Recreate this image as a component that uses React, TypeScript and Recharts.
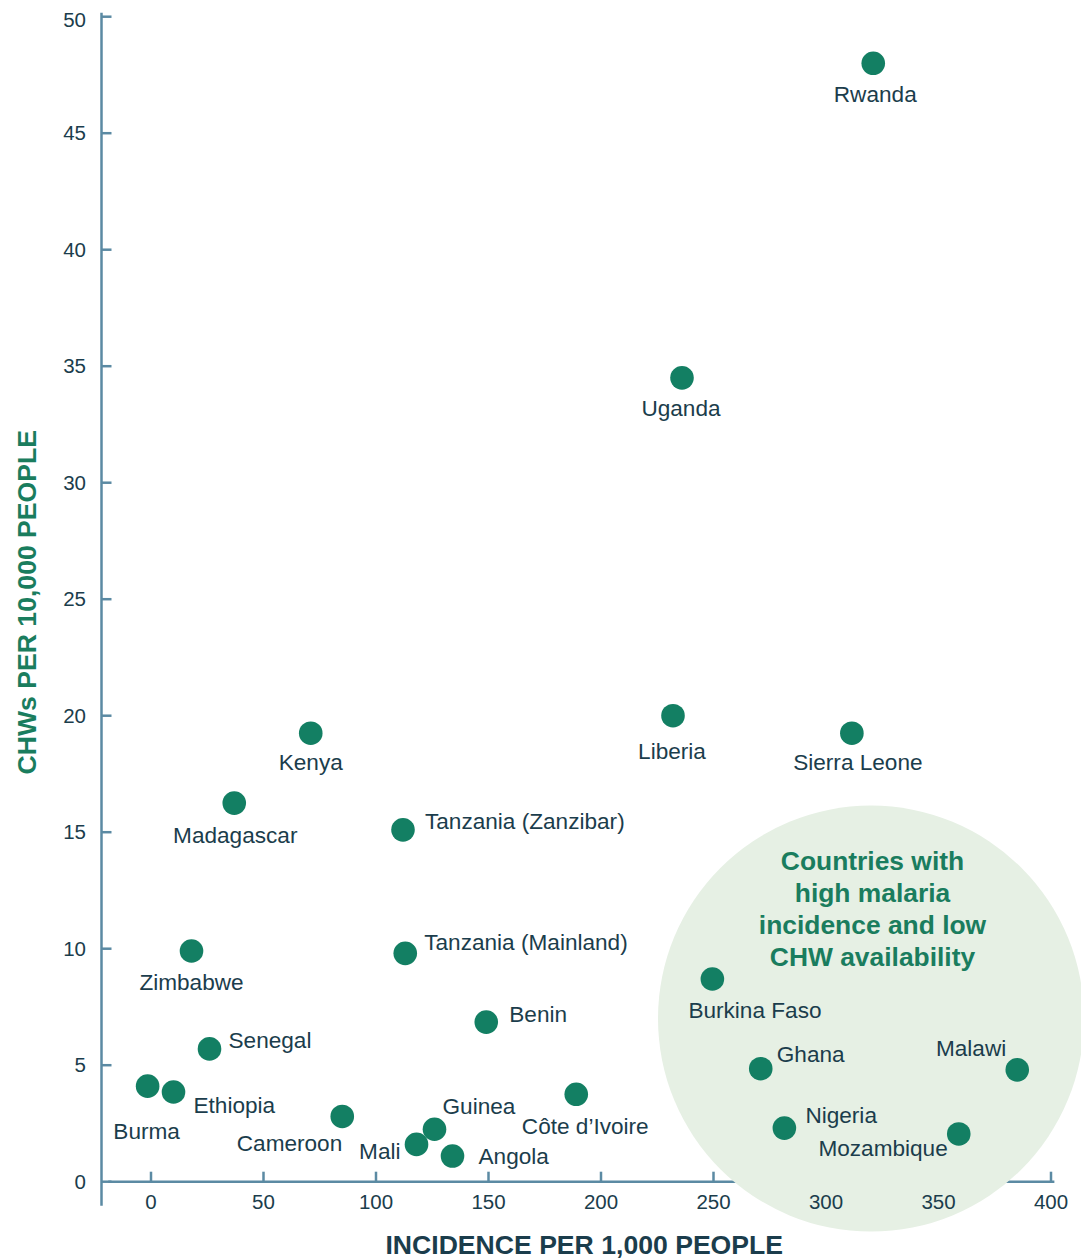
import { ScatterChart, Scatter, XAxis, YAxis, ReferenceLine, ReferenceDot, Label } from 'recharts';

const FONT = '"Liberation Sans", Arial, Helvetica, sans-serif';
const DOT = '#137f63';
const AXIS = '#5b8aa3';
const INK = '#1b3d4c';
const GREEN = '#1a7d5e';

// countries, incidence per 1,000 and CHWs per 10,000
const countries = [
  'Rwanda', 'Uganda', 'Liberia', 'Sierra Leone', 'Kenya', 'Madagascar',
  'Tanzania (Zanzibar)', 'Zimbabwe', 'Tanzania (Mainland)', 'Burkina Faso',
  'Benin', 'Senegal', 'Ghana', 'Malawi', 'Burma', 'Ethiopia', 'Côte d’Ivoire',
  'Cameroon', 'Nigeria', 'Guinea', 'Mozambique', 'Mali', 'Angola',
];
const incidence = [
  321, 236, 232, 311.5, 71, 37,
  112, 18, 113, 249.5,
  149, 26, 271, 385, -1.5, 10, 189,
  85, 281.5, 126, 359, 118, 134,
];
const chwDensity = [
  48, 34.5, 20, 19.25, 19.25, 16.25,
  15.1, 9.9, 9.8, 8.7,
  6.85, 5.7, 4.85, 4.8, 4.1, 3.85, 3.75,
  2.8, 2.3, 2.25, 2.05, 1.6, 1.1,
];

const xTicks = [0, 50, 100, 150, 200, 250, 300, 350, 400];
const yTicks = [0, 5, 10, 15, 20, 25, 30, 35, 40, 45, 50];

const zoneCenter = { x: 320, y: 7 };
const zoneText = ['Countries with', 'high malaria', 'incidence and low', 'CHW availability'];

const points = countries.map((name, i) => ({ name, x: incidence[i], y: chwDensity[i] }));

// where each country's name sits relative to its dot: dx, dy, anchor
const labelPlacement: Record<string, [number, number, 'start' | 'middle' | 'end']> = {
  'Rwanda': [2, 31, 'middle'],
  'Uganda': [-1, 31, 'middle'],
  'Liberia': [-1, 36, 'middle'],
  'Sierra Leone': [6, 29, 'middle'],
  'Kenya': [0, 29, 'middle'],
  'Madagascar': [1, 32, 'middle'],
  'Tanzania (Zanzibar)': [22, -8, 'start'],
  'Zimbabwe': [0, 31, 'middle'],
  'Tanzania (Mainland)': [19, -11, 'start'],
  'Burkina Faso': [-24, 32, 'start'],
  'Benin': [23, -8, 'start'],
  'Senegal': [19, -8, 'start'],
  'Ghana': [16, -14, 'start'],
  'Malawi': [-11, -21, 'end'],
  'Burma': [-1, 45, 'middle'],
  'Ethiopia': [20, 14, 'start'],
  'Côte d’Ivoire': [9, 32, 'middle'],
  'Cameroon': [0, 27, 'end'],
  'Nigeria': [21, -13, 'start'],
  'Guinea': [8, -23, 'start'],
  'Mozambique': [-11, 15, 'end'],
  'Mali': [-16, 7, 'end'],
  'Angola': [26, 0, 'start'],
};

const renderCountry = (props: any) => {
  const { cx, cy, payload } = props;
  const [dx, dy, anchor] = labelPlacement[payload.name] ?? [0, 30, 'middle'];
  return (
    <g>
      <circle cx={cx} cy={cy} r={11.8} fill={DOT} />
      <text
        x={cx + dx}
        y={cy + dy}
        textAnchor={anchor}
        dominantBaseline="central"
        fontSize={22.6}
        fontFamily={FONT}
        fill={INK}
      >
        {payload.name}
      </text>
    </g>
  );
};

const renderZone = (props: any) => {
  const { cx, cy } = props;
  return (
    <g>
      <circle cx={cx} cy={cy} r={213} fill="#e6f0e4" />
      {zoneText.map((line, i) => (
        <text
          key={line}
          x={cx + 1.5}
          y={cy - 158 + i * 32}
          textAnchor="middle"
          dominantBaseline="central"
          fontSize={26.4}
          fontWeight="bold"
          fontFamily={FONT}
          fill={GREEN}
        >
          {line}
        </text>
      ))}
    </g>
  );
};

export default function App() {
  return (
    <ScatterChart
      width={1081}
      height={1252}
      margin={{ top: 8.7, right: 38, bottom: 18.3, left: 13.5 }}
    >
      <ReferenceDot x={zoneCenter.x} y={zoneCenter.y} r={213} ifOverflow="visible" shape={renderZone} />
      <XAxis
        type="number"
        dataKey="x"
        domain={[-22, 400]}
        allowDataOverflow
        ticks={xTicks}
        height={60}
        axisLine={false}
        tickSize={-10}
        tickMargin={23}
        tickLine={{ stroke: AXIS, strokeWidth: 2.5 }}
        tick={{ fill: INK, fontSize: 20.5, fontFamily: FONT }}
      >
        <Label
          content={({ viewBox }: any) => (
            <text
              x={viewBox.x + viewBox.width / 2 + 8}
              y={viewBox.y + 72}
              textAnchor="middle"
              fontSize={26.6}
              fontWeight="bold"
              fontFamily={FONT}
              fill={INK}
            >
              INCIDENCE PER 1,000 PEOPLE
            </text>
          )}
        />
      </XAxis>
      <YAxis
        type="number"
        dataKey="y"
        domain={[0, 50]}
        allowDataOverflow
        ticks={yTicks}
        width={80}
        axisLine={false}
        tickSize={-10}
        tickMargin={25.5}
        tickLine={{ stroke: AXIS, strokeWidth: 2.5 }}
        tick={{ fill: INK, fontSize: 20.5, fontFamily: FONT }}
      >
        <Label
          content={({ viewBox }: any) => {
            const cx = viewBox.x + 6;
            const cy = viewBox.y + viewBox.height / 2 + 3;
            return (
              <text
                x={cx}
                y={cy}
                transform={`rotate(-90 ${cx} ${cy})`}
                textAnchor="middle"
                dominantBaseline="central"
                fontSize={26.6}
                fontWeight="bold"
                fontFamily={FONT}
                fill={GREEN}
              >
                CHWs PER 10,000 PEOPLE
              </text>
            );
          }}
        />
      </YAxis>
      <ReferenceLine
        segment={[{ x: -19, y: 0 }, { x: 401.5, y: 0 }]}
        stroke={AXIS}
        strokeWidth={2.5}
        ifOverflow="visible"
      />
      <ReferenceLine
        segment={[{ x: -22, y: -1.03 }, { x: -22, y: 50.17 }]}
        stroke={AXIS}
        strokeWidth={2.5}
        ifOverflow="visible"
      />
      <Scatter data={points} shape={renderCountry} isAnimationActive={false} />
    </ScatterChart>
  );
}
